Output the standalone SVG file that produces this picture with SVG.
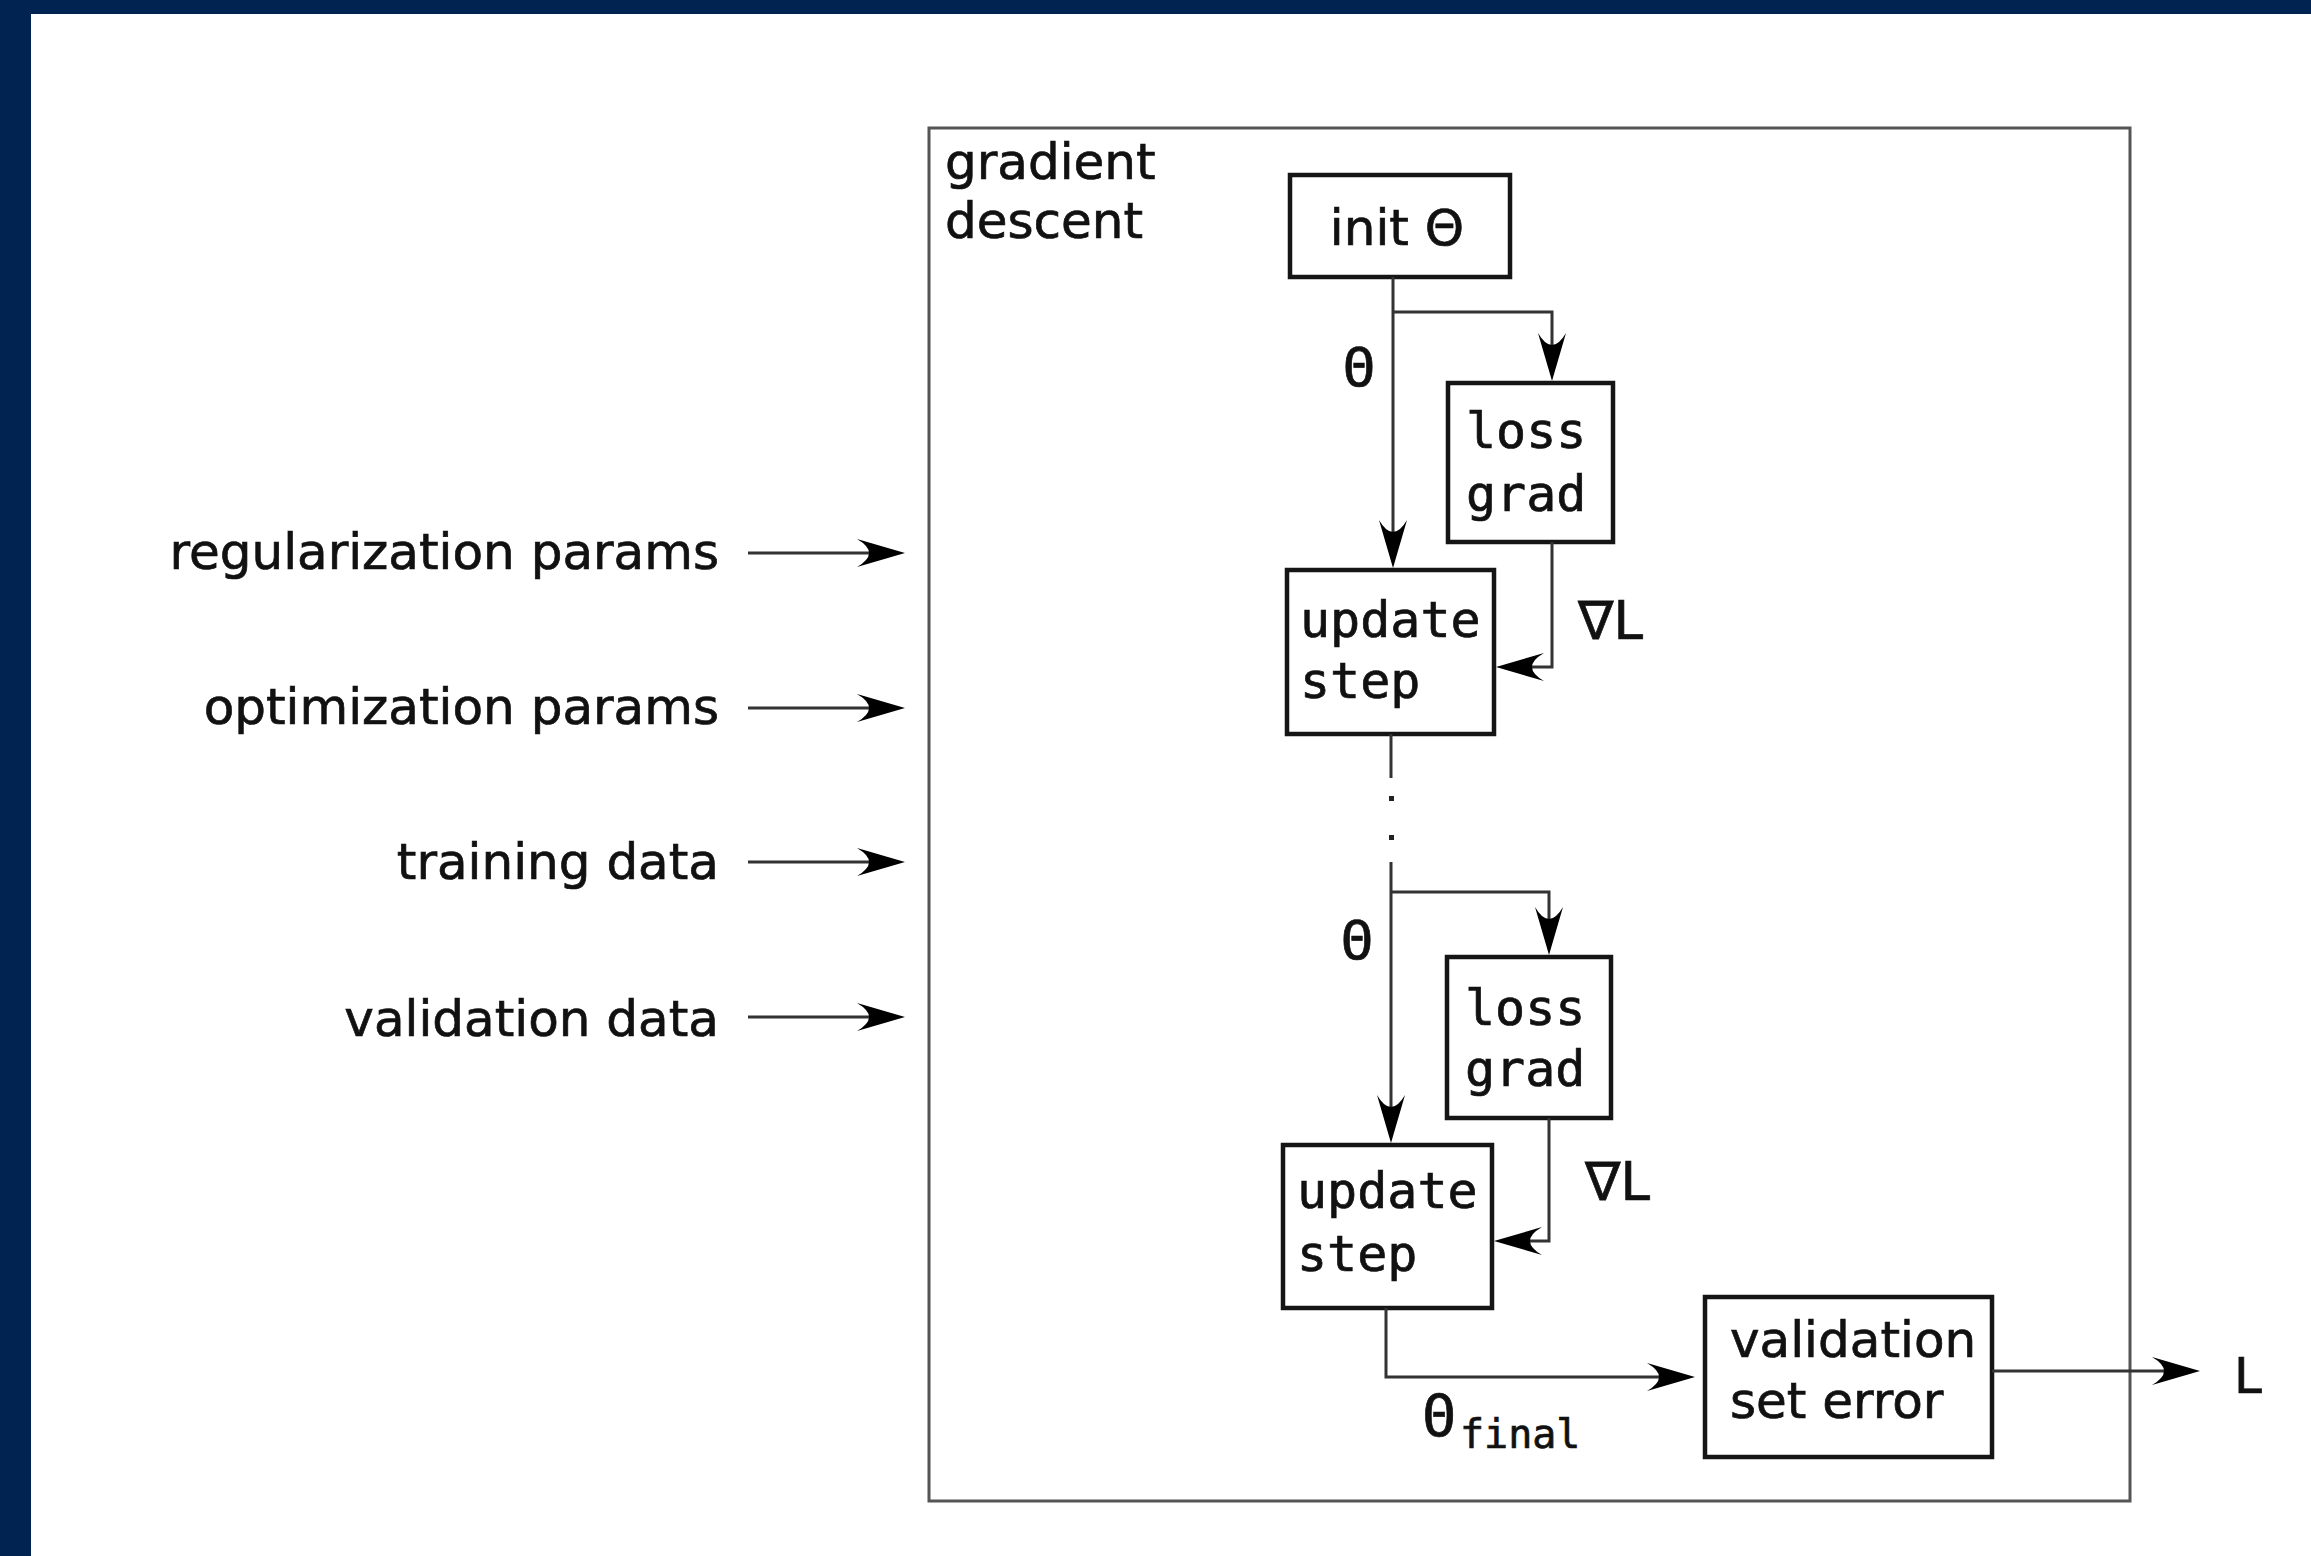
<svg xmlns="http://www.w3.org/2000/svg" width="2311" height="1556" viewBox="0 0 2311 1556">
  <style>
    .sans { font-family: "DejaVu Sans", "Liberation Sans", sans-serif; font-size: 50px; fill: #111; stroke: #111; stroke-width: 0.7; }
    .mono { font-family: "DejaVu Sans Mono", "Liberation Mono", monospace; font-size: 50px; fill: #111; stroke: #111; stroke-width: 0.7; }
    .box { fill: #fff; stroke: #151515; stroke-width: 4.5; }
    .wire { fill: none; stroke: #333; stroke-width: 3; }
    .frame { fill: none; stroke: #555; stroke-width: 3; }
  </style>
  <defs>
    <!-- concave arrowhead; tip sits 12px beyond the path end -->
    <marker id="arrow" markerUnits="userSpaceOnUse" orient="auto" refX="-12" refY="0" overflow="visible">
      <path d="M0,0 L-48,-14 Q-24,0 -48,14 Z" fill="#000"/>
    </marker>
  </defs>

  <rect width="2311" height="1556" fill="#fff"/>
  <!-- navy border bands -->
  <rect x="0" y="0" width="2311" height="14" fill="#002352"/>
  <rect x="0" y="0" width="31" height="1556" fill="#002352"/>

  <!-- outer gradient-descent container -->
  <g id="gradient-descent">
    <rect class="frame" x="929" y="128" width="1201" height="1373"/>
    <text class="sans" x="945" y="179">gradient</text>
    <text class="sans" x="945" y="238">descent</text>
  </g>

  <!-- inputs -->
  <g id="inputs">
    <text class="sans" x="719" y="569" text-anchor="end">regularization params</text>
    <text class="sans" x="719" y="724" text-anchor="end">optimization params</text>
    <text class="sans" x="719" y="879" text-anchor="end">training data</text>
    <text class="sans" x="719" y="1036" text-anchor="end">validation data</text>
  </g>

  <g id="init-theta">
    <rect class="box" x="1290" y="175" width="220" height="102"/>
    <text class="sans" x="1397" y="245" text-anchor="middle">init Θ</text>
  </g>

  <g id="loss-grad-1">
    <rect class="box" x="1448" y="383" width="165" height="159"/>
    <text class="mono" x="1466" y="448">loss</text>
    <text class="mono" x="1466" y="511">grad</text>
  </g>

  <g id="update-step-1">
    <rect class="box" x="1287" y="570" width="207" height="164"/>
    <text class="mono" x="1300" y="637">update</text>
    <text class="mono" x="1300" y="698">step</text>
  </g>

  <g id="loss-grad-2">
    <rect class="box" x="1447" y="957" width="164" height="161"/>
    <text class="mono" x="1465" y="1025">loss</text>
    <text class="mono" x="1465" y="1086">grad</text>
  </g>

  <g id="update-step-2">
    <rect class="box" x="1283" y="1145" width="209" height="163"/>
    <text class="mono" x="1297" y="1208">update</text>
    <text class="mono" x="1297" y="1271">step</text>
  </g>

  <g id="validation-set-error">
    <rect class="box" x="1705" y="1297" width="287" height="160"/>
    <text class="sans" x="1730" y="1357">validation</text>
    <text class="sans" x="1730" y="1418">set error</text>
  </g>

  <g id="connectors">
    <!-- input arrows -->
    <path class="wire" d="M748,553 H893" marker-end="url(#arrow)"/>
    <path class="wire" d="M748,708 H893" marker-end="url(#arrow)"/>
    <path class="wire" d="M748,862 H893" marker-end="url(#arrow)"/>
    <path class="wire" d="M748,1017 H893" marker-end="url(#arrow)"/>

    <!-- first iteration -->
    <path class="wire" d="M1393,277 V556" marker-end="url(#arrow)"/>
    <path class="wire" d="M1393,312 H1552 V369" marker-end="url(#arrow)"/>
    <path class="wire" d="M1552,542 V667 H1508" marker-end="url(#arrow)"/>

    <!-- elided iterations -->
    <path class="wire" d="M1391,734 V778"/>
    <rect x="1389" y="796" width="5" height="5" fill="#222"/>
    <rect x="1389" y="835" width="5" height="5" fill="#222"/>

    <!-- last iteration -->
    <path class="wire" d="M1391,862 V1131" marker-end="url(#arrow)"/>
    <path class="wire" d="M1391,892 H1549 V943" marker-end="url(#arrow)"/>
    <path class="wire" d="M1549,1118 V1241 H1506" marker-end="url(#arrow)"/>

    <!-- final parameters to validation, then output -->
    <path class="wire" d="M1386,1308 V1377 H1683" marker-end="url(#arrow)"/>
    <path class="wire" d="M1992,1371 H2188" marker-end="url(#arrow)"/>

    <!-- connector labels -->
    <text class="mono" x="1359" y="386" text-anchor="middle" style="font-size:54px">Θ</text>
    <text class="sans" x="1578" y="639" style="font-size:53px">∇L</text>
    <text class="mono" x="1357" y="959" text-anchor="middle" style="font-size:54px">Θ</text>
    <text class="sans" x="1585" y="1200" style="font-size:53px">∇L</text>
    <text class="mono" x="1439" y="1436" text-anchor="middle" style="font-size:56px">Θ</text>
    <text class="mono" x="1460" y="1448" style="font-size:40px">final</text>
    <text class="sans" x="2234" y="1393">L</text>
  </g>
</svg>
